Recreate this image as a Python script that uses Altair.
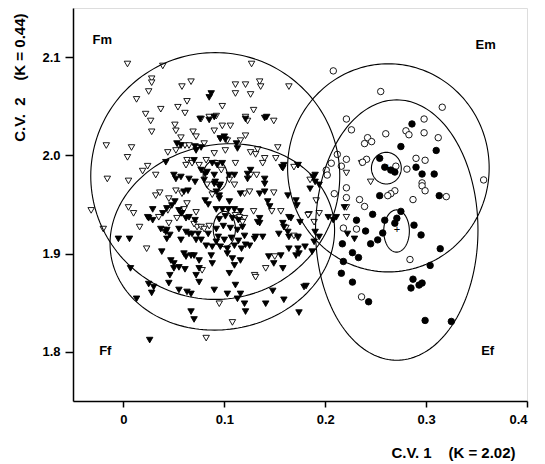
import altair as alt
import pandas as pd
import numpy as np

# ---------------- data ----------------
fm_x = [0.004, 0.039, 0.028, 0.028, 0.058, 0.067, 0.025, 0.013, 0.063, 0.054, 0.061, 0.037, 0.022, 0.027, 0.028,
        0.051, 0.052, 0.069, 0.072, 0.057, -0.017, 0.008, 0.055, 0.061, 0.065, 0.004, 0.044, 0.052, 0.024, 0.019,
        -0.016, 0.005, 0.032, 0.063, 0.068, 0.062,
        0.127, 0.164, 0.111, 0.121, 0.135, 0.136, 0.111, 0.126, 0.098, 0.129, 0.149, 0.121, 0.123, 0.077, 0.085,
        0.092, 0.098, 0.106, 0.090, 0.121, 0.096, 0.103, 0.116, 0.080, 0.133, 0.126, 0.131, 0.153, 0.090, 0.101,
        0.140, 0.138, 0.151, 0.111, 0.082, 0.075, 0.126, 0.132, 0.110,
        -0.032, -0.020, 0.005, 0.010, 0.016, 0.023, 0.035, 0.044, 0.053, 0.045, 0.036, 0.032, 0.045, 0.040, 0.063,
        0.072, 0.052, 0.058,
        0.149, 0.129, 0.147, 0.156, 0.184, 0.161, 0.169, 0.173, 0.120, 0.118, 0.130, 0.141, 0.095, 0.108, 0.082,
        0.078, 0.073, 0.077, 0.120, 0.125, 0.111, 0.115,
        0.173, 0.169, 0.221, 0.236, 0.245, 0.191, 0.183, 0.194, 0.221, 0.221, 0.189, 0.185,
        0.131, 0.150, 0.080, 0.085, 0.070, 0.060, 0.088, 0.105, 0.097, 0.083]
fm_y = [2.093, 2.091, 2.078, 2.074, 2.070, 2.075, 2.065, 2.057, 2.055, 2.049, 2.043, 2.047, 2.042, 2.035, 2.024,
        2.031, 2.025, 2.024, 2.019, 2.018, 2.010, 2.008, 2.010, 2.010, 2.010, 1.998, 2.003, 2.005, 1.989, 1.984,
        1.976, 1.974, 1.980, 1.995, 1.992, 1.990,
        2.093, 2.070, 2.072, 2.072, 2.075, 2.070, 2.063, 2.062, 2.050, 2.046, 2.035, 2.039, 2.035, 2.037, 2.039,
        2.040, 2.030, 2.030, 2.025, 2.020, 2.017, 2.015, 2.015, 2.012, 2.006, 2.003, 2.001, 2.008, 2.002, 2.005,
        1.997, 1.992, 1.997, 1.992, 1.995, 1.990, 1.980, 1.980, 1.970,
        1.944, 1.925, 1.947, 1.941, 1.927, 1.905, 1.937, 1.944, 1.936, 1.931, 1.962, 1.959, 1.956, 1.924, 1.951,
        1.942, 1.964, 1.961,
        1.962, 1.943, 1.943, 1.943, 1.940, 1.926, 1.918, 1.916, 1.936, 1.932, 1.878, 1.885, 1.849, 1.830, 1.814,
        1.883, 1.927, 1.927, 1.961, 1.963, 1.939, 1.937,
        1.990, 1.988, 1.982, 1.992, 1.973, 1.954, 1.939, 1.941, 1.937, 1.947, 1.932, 1.975,
        1.876, 1.897, 1.925, 1.928, 1.930, 1.945, 1.960, 1.975, 1.985, 1.970]

ff_x = [0.042, 0.052,
        0.087, 0.085, 0.121, 0.140, 0.085, 0.096, 0.101, 0.113, 0.077, 0.072, 0.157, 0.158, 0.173, 0.188, 0.123,
        0.123, 0.140, 0.140, 0.088, 0.093, 0.098, 0.077, 0.083, 0.090, 0.080, 0.090, 0.096, 0.110, 0.070,
        -0.005, 0.006, 0.007, 0.024, 0.025, 0.029, 0.037, 0.042, 0.043, 0.038, 0.025, 0.030, 0.028, 0.013, 0.047,
        0.050, 0.046, 0.045, 0.055, 0.062, 0.057, 0.060, 0.062, 0.067, 0.050, 0.055, 0.061, 0.055, 0.063, 0.067,
        0.067, 0.070, 0.026, 0.068, 0.072, 0.055, 0.058, 0.062,
        0.092, 0.095, 0.105, 0.135, 0.140, 0.171, 0.166, 0.158, 0.159, 0.135, 0.133, 0.131, 0.130, 0.125, 0.164,
        0.173, 0.171, 0.144, 0.149, 0.156, 0.158, 0.105, 0.090, 0.103, 0.116, 0.113, 0.120, 0.121, 0.141, 0.159,
        0.148, 0.111, 0.174, 0.179, 0.087, 0.088, 0.103, 0.108, 0.110, 0.116, 0.070, 0.075, 0.075, 0.072, 0.075,
        0.082, 0.088,
        0.092, 0.098, 0.104, 0.110, 0.116, 0.095, 0.101, 0.108, 0.114, 0.092, 0.099, 0.106, 0.113, 0.118, 0.094,
        0.100, 0.107, 0.114, 0.120, 0.096, 0.103, 0.110, 0.117, 0.092, 0.121,
        0.050, 0.057, 0.065, 0.071, 0.081, 0.091, 0.095, 0.105, 0.060, 0.064, 0.051, 0.048, 0.043, 0.039, 0.081,
        0.084, 0.095, 0.116, 0.143, 0.145, 0.163, 0.185, 0.190, 0.190, 0.194, 0.159, 0.126, 0.065, 0.071, 0.057,
        0.029, 0.043, 0.046, 0.065, 0.074, 0.077, 0.084, 0.135, 0.138, 0.154, 0.163, 0.164, 0.175, 0.190, 0.194,
        0.203, 0.180, 0.187, 0.211, 0.229, 0.222, 0.208, 0.189, 0.173, 0.174, 0.164, 0.181, 0.142, 0.076, 0.090,
        0.100, 0.112, 0.071, 0.053, 0.057, 0.219, 0.172]
ff_y = [1.993, 1.976,
        2.063, 2.059, 2.037, 2.038, 2.036, 2.017, 2.016, 2.007, 2.008, 2.005, 1.988, 1.987, 1.990, 1.978, 1.981,
        1.976, 1.976, 1.971, 1.992, 1.990, 1.992, 1.985, 1.983, 1.980, 1.975, 1.971, 1.970, 1.980, 1.995,
        1.915, 1.915, 1.885, 1.937, 1.936, 1.945, 1.925, 1.922, 1.915, 1.902, 1.869, 1.866, 1.860, 1.854, 1.893,
        1.890, 1.878, 1.870, 1.925, 1.922, 1.914, 1.900, 1.897, 1.898, 1.885, 1.886, 1.884, 1.863, 1.861, 1.859,
        1.841, 1.833, 1.812, 1.920, 1.914, 1.944, 1.941, 1.936,
        1.963, 1.959, 1.953, 1.961, 1.963, 1.954, 1.936, 1.931, 1.927, 1.936, 1.932, 1.917, 1.915, 1.908, 1.905,
        1.905, 1.898, 1.897, 1.890, 1.898, 1.885, 1.880, 1.863, 1.859, 1.859, 1.854, 1.849, 1.841, 1.849, 1.853,
        1.862, 1.868, 1.840, 1.866, 1.898, 1.890, 1.900, 1.895, 1.888, 1.893, 1.898, 1.893, 1.885, 1.878, 1.871,
        1.908, 1.907,
        1.945, 1.945, 1.945, 1.945, 1.943, 1.935, 1.938, 1.936, 1.934, 1.925, 1.928, 1.926, 1.924, 1.927, 1.917,
        1.914, 1.916, 1.913, 1.918, 1.907, 1.905, 1.908, 1.905, 1.912, 1.909,
        1.980, 1.978, 1.976, 1.973, 1.981, 1.973, 1.968, 1.980, 1.963, 1.964, 1.953, 1.949, 1.946, 1.941, 1.954,
        1.950, 1.956, 1.961, 1.953, 1.948, 1.959, 1.966, 1.980, 1.973, 1.970, 1.990, 1.985, 1.937, 1.934, 1.941,
        1.934, 1.924, 1.919, 1.920, 1.920, 1.914, 1.920, 1.931, 1.917, 1.920, 1.922, 1.917, 1.932, 1.922, 1.917,
        1.937, 1.907, 1.902, 1.937, 1.915, 1.920, 1.934, 1.912, 1.917, 1.900, 1.937, 1.867, 2.039, 2.037, 2.039,
        2.019, 2.012, 2.009, 2.012, 2.010, 1.947, 1.949]

em_x = [0.208, 0.255, 0.316, 0.221, 0.298, 0.226, 0.260, 0.280, 0.283, 0.298, 0.312, 0.242, 0.246, 0.239, 0.212,
        0.221, 0.241, 0.237, 0.270, 0.290, 0.299, 0.281, 0.206, 0.201, 0.202, 0.216, 0.296, 0.296, 0.299, 0.221,
        0.209, 0.269, 0.265, 0.262, 0.320, 0.221, 0.234, 0.287, 0.239, 0.357, 0.218, 0.231, 0.284, 0.236]
em_y = [2.086, 2.065, 2.049, 2.037, 2.037, 2.026, 2.022, 2.025, 2.021, 2.023, 2.018, 2.018, 2.014, 2.012, 2.001,
        1.996, 1.996, 1.993, 1.989, 1.997, 1.995, 1.986, 1.992, 1.985, 1.980, 1.989, 1.972, 1.969, 1.964, 1.967,
        1.961, 1.964, 1.961, 1.959, 1.958, 1.957, 1.955, 1.955, 1.948, 1.975, 1.926, 1.925, 1.894, 1.856]

ef_x = [0.286, 0.275, 0.254, 0.290, 0.296, 0.308, 0.310, 0.254, 0.313, 0.259, 0.265, 0.269, 0.247, 0.231, 0.240,
        0.217, 0.245, 0.227, 0.233, 0.218, 0.216, 0.227, 0.243, 0.252, 0.257, 0.259, 0.275, 0.269, 0.271, 0.288,
        0.295, 0.304, 0.287, 0.285, 0.293, 0.296, 0.314, 0.299, 0.325]
ef_y = [2.032, 2.009, 1.997, 1.988, 1.981, 1.981, 2.005, 1.959, 1.959, 1.988, 1.985, 1.983, 1.940, 1.934, 1.923,
        1.910, 1.910, 1.901, 1.896, 1.892, 1.880, 1.871, 1.851, 1.914, 1.921, 1.934, 1.943, 1.931, 1.936, 1.929,
        1.919, 1.888, 1.874, 1.865, 1.868, 1.870, 1.905, 1.832, 1.831]

# ellipses: name, centre, semi-axes, rotation (deg)
ell_name = ["Fm", "Ff", "Em", "Ef", "Fm_c", "Ff_c", "Em_c", "Ef_c"]
ell_cx = [0.091, 0.098, 0.2626, 0.2709, 0.091, 0.100, 0.2606, 0.2707]
ell_cy = [1.979, 1.917, 1.9873, 1.924, 1.979, 1.925, 1.987, 1.923]
ell_rx = [0.1234, 0.112, 0.0999, 0.0805, 0.012, 0.011, 0.0148, 0.0127]
ell_ry = [0.1256, 0.094, 0.1059, 0.1325, 0.016, 0.018, 0.0161, 0.0215]
ell_rot = [0, 12, 0, 0, 0, 0, 0, 0]

mean_x = [0.262, 0.271]
mean_y = [1.987, 1.924]

lab_text = ["Fm", "Em", "Ff", "Ef"]
lab_x = [-0.021, 0.359, -0.018, 0.361]
lab_y = [2.117, 2.112, 1.801, 1.801]

NB = "\u00a0"
x_title = "C.V." + NB + "1" + NB * 4 + "(K" + NB + "=" + NB + "2.02)"
y_title = "C.V." + NB + NB + "2" + NB * 4 + "(K" + NB + "=" + NB + "0.44)"

# ---------------- tables ----------------
groups = ["Fm", "Ff", "Em", "Ef"]
pts = pd.concat([
    pd.DataFrame({"x": fm_x, "y": fm_y, "g": "Fm"}),
    pd.DataFrame({"x": ff_x, "y": ff_y, "g": "Ff"}),
    pd.DataFrame({"x": em_x, "y": em_y, "g": "Em"}),
    pd.DataFrame({"x": ef_x, "y": ef_y, "g": "Ef"}),
], ignore_index=True)

t = np.linspace(0, 2 * np.pi, 181)
ell_rows = []
for n, cx, cy, rx, ry, rot in zip(ell_name, ell_cx, ell_cy, ell_rx, ell_ry, ell_rot):
    th = np.deg2rad(rot)
    ex = cx + rx * np.cos(t) * np.cos(th) - ry * np.sin(t) * np.sin(th)
    ey = cy + rx * np.cos(t) * np.sin(th) + ry * np.sin(t) * np.cos(th)
    for i, (a, b) in enumerate(zip(ex, ey)):
        ell_rows.append({"e": n, "i": i, "x": a, "y": b})
ell = pd.DataFrame(ell_rows)

means = pd.DataFrame({"x": mean_x, "y": mean_y})
labs = pd.DataFrame({"t": lab_text, "x": lab_x, "y": lab_y})

FONT = "Liberation Sans"
xs = alt.Scale(domain=[-0.05, 0.4], nice=False, zero=False)
ys = alt.Scale(domain=[1.75, 2.15], nice=False, zero=False)

xax = alt.Axis(values=[0, 0.1, 0.2, 0.3, 0.4], labelExpr="datum.value == 0 ? '0' : format(datum.value, '.1f')",
               title=x_title, titleX=442, titleY=51, titleAlign="right", titleBaseline="middle",
               titleFontSize=15, titleFontWeight="bold", titleFont=FONT,
               labelFont=FONT, labelFontSize=13, labelFontWeight="bold", labelPadding=6,
               tickSize=6, grid=False, domainColor="black", tickColor="black", labelColor="black",
               titleColor="black", domainWidth=1.5, tickWidth=1.5)
yax = alt.Axis(values=[1.8, 1.9, 2.0, 2.1], format=".1f",
               title=y_title, titleX=-54, titleY=5, titleAlign="right", titleBaseline="middle",
               titleAngle=-90, titleFontSize=15, titleFontWeight="bold", titleFont=FONT,
               labelFont=FONT, labelFontSize=13, labelFontWeight="bold", labelPadding=5,
               tickSize=8, grid=False, domainColor="black", tickColor="black", labelColor="black",
               titleColor="black", domainWidth=1.5, tickWidth=1.5)

points = alt.Chart(pts).mark_point(filled=True, stroke="black", strokeWidth=0.9, opacity=1).encode(
    x=alt.X("x:Q", scale=xs, axis=xax),
    y=alt.Y("y:Q", scale=ys, axis=yax),
    shape=alt.Shape("g:N", scale=alt.Scale(domain=groups, range=["triangle-down", "triangle-down", "circle", "circle"]), legend=None),
    fill=alt.Fill("g:N", scale=alt.Scale(domain=groups, range=["white", "black", "white", "black"]), legend=None),
    size=alt.Size("g:N", scale=alt.Scale(domain=groups, range=[42, 42, 26, 26]), legend=None),
)

lines = alt.Chart(ell).mark_line(color="black", strokeWidth=1.1).encode(
    x=alt.X("x:Q", scale=xs), y=alt.Y("y:Q", scale=ys), detail="e:N", order="i:Q")

crosses = alt.Chart(means).mark_text(text="+", fontSize=11, fill="black", color="black", font=FONT).encode(
    x=alt.X("x:Q", scale=xs), y=alt.Y("y:Q", scale=ys))

texts = alt.Chart(labs).mark_text(fontSize=13, fontWeight="bold", font=FONT, fill="black", color="black").encode(
    x=alt.X("x:Q", scale=xs), y=alt.Y("y:Q", scale=ys), text="t:N")

chart = alt.layer(points, lines, crosses, texts).properties(
    width=454, height=393,
    autosize=alt.AutoSizeParams(type="none"),
    padding={"left": 73, "top": 8, "right": 18, "bottom": 63},
).configure_view(stroke=None).configure(background="white")

chart.save("out.html", embed_options={"renderer": "svg", "actions": False})
